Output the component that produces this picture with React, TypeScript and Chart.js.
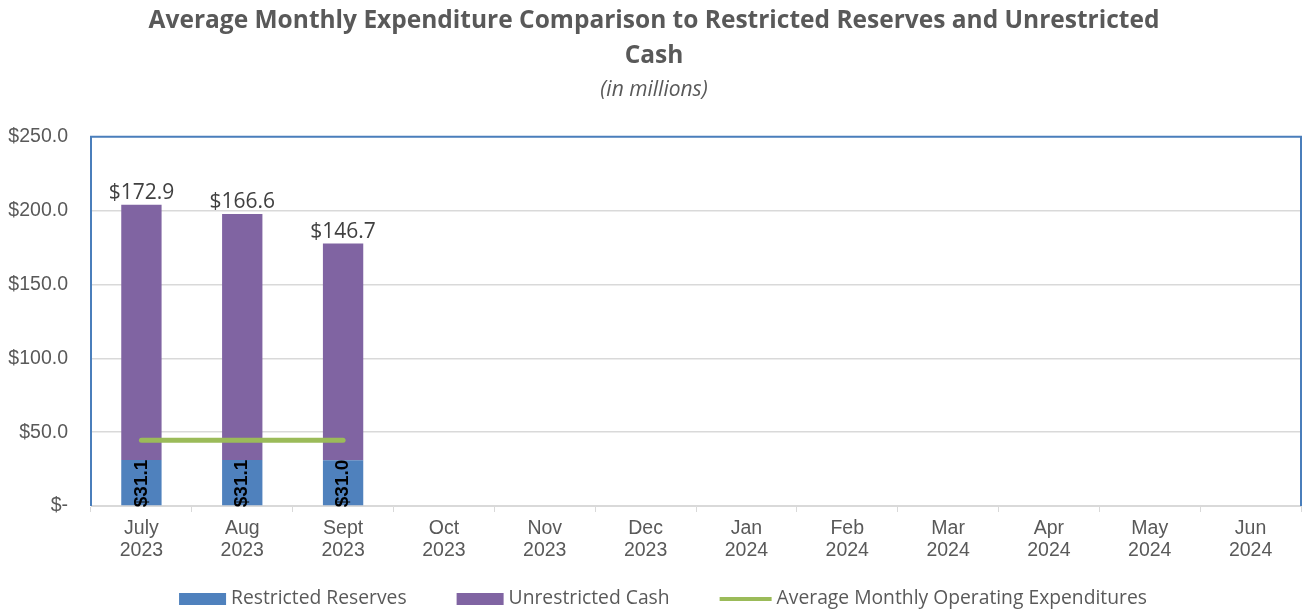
import { useEffect, useRef } from "react";
import { Chart, registerables } from "chart.js";
Chart.register(...registerables);

const months = ["July", "Aug", "Sept", "Oct", "Nov", "Dec", "Jan", "Feb", "Mar", "Apr", "May", "Jun"];
const years = ["2023", "2023", "2023", "2023", "2023", "2023", "2024", "2024", "2024", "2024", "2024", "2024"];
const restrictedReserves = [31.1, 31.1, 31.0, null, null, null, null, null, null, null, null, null];
const unrestrictedCash = [172.9, 166.6, 146.7, null, null, null, null, null, null, null, null, null];
const avgMonthlyOpEx = [44.5, 44.5, 44.5, null, null, null, null, null, null, null, null, null];
const yMin = 0;
const yMax = 250;
const yStep = 50;

const titleLines = [
  "Average Monthly Expenditure Comparison to Restricted Reserves and Unrestricted",
  "Cash",
];
const subtitleText = "(in millions)";

const BLUE = "#4f81bd";
const PURPLE = "#8064a2";
const GREEN = "#9bbb59";
const GRAY_TEXT = "#595959";
const GRID = "#d9d9d9";

const borderPlugin = {
  id: "plotBorder",
  afterDraw(chart: any) {
    const { ctx, chartArea } = chart;
    ctx.save();
    ctx.strokeStyle = "#4a7ebb";
    ctx.lineWidth = 2;
    ctx.beginPath();
    ctx.moveTo(chartArea.left, chartArea.bottom);
    ctx.lineTo(chartArea.left, chartArea.top);
    ctx.lineTo(chartArea.right, chartArea.top);
    ctx.lineTo(chartArea.right, chartArea.bottom);
    ctx.stroke();
    ctx.restore();
  },
};

const labelPlugin = {
  id: "valueLabels",
  afterDatasetsDraw(chart: any) {
    const { ctx } = chart;
    ctx.save();
    const metaU = chart.getDatasetMeta(1);
    ctx.font = "21px 'Open Sans'";
    ctx.fillStyle = "#404040";
    ctx.textAlign = "center";
    ctx.textBaseline = "alphabetic";
    metaU.data.forEach((bar: any, i: number) => {
      const v = unrestrictedCash[i];
      if (v == null) return;
      ctx.fillText("$" + v.toFixed(1), bar.x, bar.y - 6);
    });
    const metaR = chart.getDatasetMeta(0);
    ctx.font = "bold 19px 'Liberation Sans'";
    ctx.fillStyle = "#000000";
    ctx.textAlign = "left";
    ctx.textBaseline = "middle";
    metaR.data.forEach((bar: any, i: number) => {
      const v = restrictedReserves[i];
      if (v == null) return;
      ctx.save();
      ctx.translate(bar.x, bar.base + 2);
      ctx.rotate(-Math.PI / 2);
      ctx.fillText("$" + v.toFixed(1), 0, 0);
      ctx.restore();
    });
    ctx.restore();
  },
};

// Legend drawn on the canvas, items taken from the chart's datasets
const legendPlugin = {
  id: "bottomLegend",
  afterDraw(chart: any) {
    const { ctx } = chart;
    const font = "19.3px 'Open Sans'";
    const gapText = 5;
    const gapItem = 50;
    ctx.save();
    ctx.font = font;
    const items = chart.data.datasets.map((ds: any) => {
      const isLine = ds.type === "line";
      const sw = isLine ? 52 : 47;
      const tw = ctx.measureText(ds.label).width;
      return { ds, isLine, sw, tw, w: sw + gapText + tw };
    });
    const total = items.reduce((s: number, it: any) => s + it.w, 0) + gapItem * (items.length - 1);
    let x = chart.width / 2 + 10 - total / 2;
    const cy = 599;
    items.forEach((it: any) => {
      if (it.isLine) {
        ctx.strokeStyle = it.ds.borderColor;
        ctx.lineWidth = 4;
        ctx.beginPath();
        ctx.moveTo(x, cy);
        ctx.lineTo(x + it.sw, cy);
        ctx.stroke();
      } else {
        ctx.fillStyle = it.ds.backgroundColor;
        ctx.fillRect(x, cy - 6, it.sw, 12);
      }
      ctx.fillStyle = GRAY_TEXT;
      ctx.textAlign = "left";
      ctx.textBaseline = "middle";
      ctx.fillText(it.ds.label, x + it.sw + gapText, cy);
      x += it.w + gapItem;
    });
    ctx.restore();
  },
};

export default function App() {
  const ref = useRef<HTMLCanvasElement>(null);
  useEffect(() => {
    if (!ref.current) return;
    const labels = months.map((m, i) => [m, years[i]]);
    const chart = new Chart(ref.current, {
      type: "bar",
      data: {
        labels,
        datasets: [
          {
            type: "bar",
            label: "Restricted Reserves",
            data: restrictedReserves as any,
            backgroundColor: BLUE,
            borderWidth: 0,
            stack: "s",
            order: 1,
          },
          {
            type: "bar",
            label: "Unrestricted Cash",
            data: unrestrictedCash as any,
            backgroundColor: PURPLE,
            borderWidth: 0,
            stack: "s",
            order: 1,
          },
          {
            type: "line",
            label: "Average Monthly Operating Expenditures",
            data: avgMonthlyOpEx as any,
            borderColor: GREEN,
            backgroundColor: GREEN,
            borderWidth: 5,
            borderCapStyle: "round",
            pointRadius: 0,
            stack: "avg",
            order: 0,
          } as any,
        ],
      },
      options: {
        animation: false,
        responsive: false,
        maintainAspectRatio: false,
        layout: { padding: { left: 7, right: 5, top: 0, bottom: 50 } },
        datasets: { bar: { categoryPercentage: 1, barPercentage: 0.4 } },
        plugins: {
          title: {
            display: true,
            text: titleLines,
            color: GRAY_TEXT,
            font: { family: "Open Sans", size: 24.5, weight: "bold", lineHeight: 1.44 },
            padding: { top: 3, bottom: 0 },
          },
          subtitle: {
            display: true,
            text: subtitleText,
            color: GRAY_TEXT,
            font: { family: "Open Sans", size: 21, style: "italic", lineHeight: 1.2 },
            padding: { top: 4, bottom: 34 },
          },
          legend: { display: false },
          tooltip: { enabled: false },
        },
        scales: {
          x: {
            stacked: true,
            grid: {
              offset: true,
              drawOnChartArea: false,
              drawTicks: true,
              tickLength: 6,
              color: GRID,
            },
            border: { color: GRID, width: 1 },
            ticks: {
              color: GRAY_TEXT,
              font: { family: "Liberation Sans", size: 19.5, lineHeight: 1.15 },
              padding: 5,
              maxRotation: 0,
              autoSkip: false,
            },
            afterFit: (s: any) => {
              s.height = 56;
            },
          },
          y: {
            stacked: true,
            min: yMin,
            max: yMax,
            grid: {
              color: (c: any) => (c.tick && c.tick.value === yMax ? "rgba(0,0,0,0)" : GRID),
              drawTicks: false,
              lineWidth: 1.5,
            },
            border: { display: false },
            ticks: {
              stepSize: yStep,
              color: GRAY_TEXT,
              font: { family: "Liberation Sans", size: 19.5 },
              padding: 23,
              callback: (v: any) => (Number(v) === 0 ? "$-" : "$" + Number(v).toFixed(1)),
            },
            afterFit: (s: any) => {
              s.width = 84;
            },
          },
        },
      } as any,
      plugins: [borderPlugin, labelPlugin, legendPlugin],
    });
    return () => chart.destroy();
  }, []);
  return (
    <div style={{ position: "fixed", left: 0, top: 0, width: 1306, height: 612, background: "#fff" }}>
      <canvas ref={ref} width={1306} height={612} style={{ width: 1306, height: 612 }} />
    </div>
  );
}
